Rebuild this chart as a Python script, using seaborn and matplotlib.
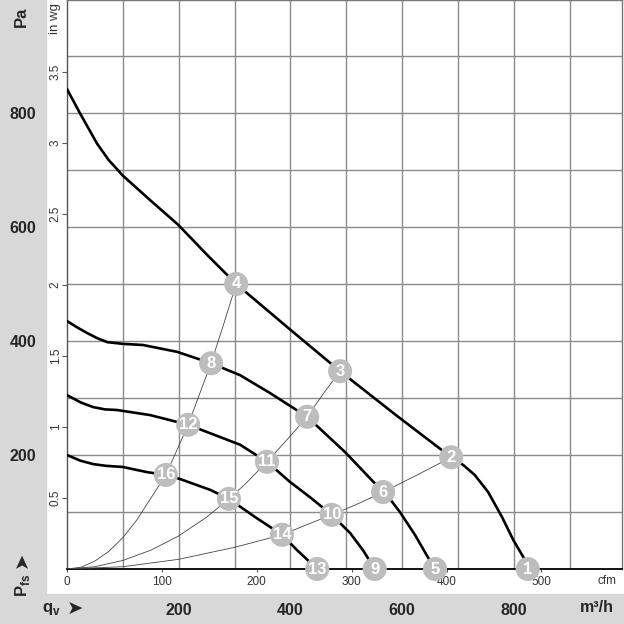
import matplotlib
matplotlib.use('Agg')
import matplotlib.pyplot as plt
import seaborn as sns
import pandas as pd
from matplotlib.patches import Rectangle

# fan curves: flow in m3/h, static pressure in Pa
curve_1_q = [0, 23, 54, 75, 91, 99, 149, 199, 251, 303, 396, 489, 589, 688, 710, 730, 754, 779, 799, 820, 825]
curve_1_p = [842, 800, 746, 717, 700, 691, 647, 604, 551, 500, 423, 347, 270, 196, 182, 165, 135, 91, 51, 16, 0]
curve_2_q = [0, 18, 36, 54, 72, 100, 136, 197, 258, 310, 363, 430, 498, 566, 582, 596, 623, 646, 659]
curve_2_p = [435, 424, 414, 405, 398, 395, 393, 381, 361, 340, 309, 267, 205, 135, 118, 100, 60, 21, 0]
curve_3_q = [0, 25, 47, 68, 89, 149, 217, 310, 358, 399, 435, 474, 507, 530, 551]
curve_3_p = [305, 292, 284, 280, 279, 270, 253, 218, 188, 153, 126, 95, 63, 33, 0]
curve_4_q = [0, 24, 47, 70, 100, 143, 177, 202, 256, 290, 337, 385, 412, 448]
curve_4_p = [200, 190, 184, 181, 179, 170, 165, 158, 139, 123, 91, 60, 33, 0]

# system resistance curves (thin lines from the origin)
sys_a_q = [0, 25, 50, 75, 100, 125, 150, 177, 197, 217, 237, 258, 280, 303]
sys_a_p = [0, 3, 14, 31, 55, 86, 124, 165, 209, 253, 306, 361, 428, 500]
sys_b_q = [0, 50, 100, 150, 200, 250, 290, 320, 358, 395, 430, 460, 489]
sys_b_p = [0, 4, 15, 33, 58, 91, 123, 150, 188, 228, 267, 309, 347]
sys_c_q = [0, 100, 200, 300, 385, 430, 474, 520, 566, 625, 688]
sys_c_p = [0, 4, 17, 38, 60, 78, 95, 114, 135, 164, 196]

# numbered operating points
op_labels = ['1', '2', '3', '4', '5', '6', '7', '8',
             '9', '10', '11', '12', '13', '14', '15', '16']
op_q = [825, 688, 489, 303, 659, 566, 430, 258, 551, 474, 358, 217, 448, 385, 290, 177]
op_p = [0, 196, 347, 500, 0, 135, 267, 361, 0, 95, 188, 253, 0, 60, 123, 165]

pa_ticks = [200, 400, 600, 800]
m3h_ticks = [200, 400, 600, 800]
inwg_ticks = [0.5, 1, 1.5, 2, 2.5, 3, 3.5]
inwg_labels = ['0.5', '1', '1.5', '2', '2.5', '3', '3.5']
cfm_ticks = [0, 100, 200, 300, 400, 500]

sns.set_style('white')
plt.rcParams['font.family'] = ['Liberation Sans', 'DejaVu Sans']
plt.rcParams['mathtext.fontset'] = 'custom'
plt.rcParams['mathtext.bf'] = 'Liberation Sans:bold'
plt.rcParams['mathtext.rm'] = 'Liberation Sans'

W = 624.0
fig = plt.figure(figsize=(6.24, 6.24), dpi=100)
fig.patch.set_facecolor('white')
gray = '#d8d8d8'
fig.patches.append(Rectangle((0, 0), 45.5 / W, 1, transform=fig.transFigure, color=gray, zorder=-1))
fig.patches.append(Rectangle((0, 0), 1, 30 / W, transform=fig.transFigure, color=gray, zorder=-1))

ax = fig.add_axes([67 / W, 55 / W, 555 / W, 569 / W])
ax.set_facecolor('white')

fans = pd.concat([
    pd.DataFrame({'q': q, 'p': p, 'curve': n})
    for n, (q, p) in enumerate([(curve_1_q, curve_1_p), (curve_2_q, curve_2_p),
                                (curve_3_q, curve_3_p), (curve_4_q, curve_4_p)])
])
systems = pd.concat([
    pd.DataFrame({'q': q, 'p': p, 'curve': n})
    for n, (q, p) in enumerate([(sys_a_q, sys_a_p), (sys_b_q, sys_b_p), (sys_c_q, sys_c_p)])
])

sns.lineplot(data=systems, x='q', y='p', units='curve', estimator=None, sort=False,
             color='#444444', lw=0.6, ax=ax, zorder=3)
sns.lineplot(data=fans, x='q', y='p', units='curve', estimator=None, sort=False,
             color='black', lw=1.9, ax=ax, zorder=4)
sns.scatterplot(x=op_q, y=op_p, s=300, color='#bdbdbd', edgecolor='none',
                ax=ax, zorder=6, clip_on=False)
for lab, q, p in zip(op_labels, op_q, op_p):
    ax.text(q, p, lab, color='white', fontsize=12, fontweight='bold',
            ha='center', va='center', zorder=7, clip_on=False)

ax.set_xlim(0, 555 / 0.5585)
ax.set_ylim(0, 569 / 0.570)
ax.set_xlabel('')
ax.set_ylabel('')

# grid every 100
ax.set_xticks(m3h_ticks)
ax.set_xticks(range(100, 1000, 100), minor=True)
ax.set_yticks(pa_ticks)
ax.set_yticks(range(100, 1000, 100), minor=True)
ax.grid(True, which='both', color='#8a8a8a', lw=1.0, zorder=1)
ax.set_axisbelow(True)
ax.tick_params(which='both', length=0)
ax.tick_params(axis='x', pad=24.5, labelsize=11.5)
ax.tick_params(axis='y', pad=22, labelsize=11.5)
for t in ax.get_xticklabels() + ax.get_yticklabels():
    t.set_fontweight('bold')

for side in ['top', 'right']:
    ax.spines[side].set_color('#777777')
    ax.spines[side].set_linewidth(1.0)
ax.spines['left'].set_color('#555555')
ax.spines['left'].set_linewidth(1.0)
ax.spines['bottom'].set_color('black')
ax.spines['bottom'].set_linewidth(1.3)

# inch water gauge scale
sec_y = ax.secondary_yaxis('left', functions=(lambda p: p / 249.089, lambda w: w * 249.089))
sec_y.set_yticks(inwg_ticks)
sec_y.set_yticklabels(inwg_labels)
sec_y.tick_params(direction='out', length=3.6, width=0.8, color='#555555',
                  labelsize=8.5, labelcolor='#333333', labelrotation=90, pad=0.2)
sec_y.spines['left'].set_visible(False)
for t in sec_y.get_yticklabels():
    t.set_va('center')

# cfm scale
sec_x = ax.secondary_xaxis('bottom', functions=(lambda q: q / 1.699, lambda c: c * 1.699))
sec_x.set_xticks(cfm_ticks)
sec_x.tick_params(direction='out', length=2.5, width=0.8, color='#555555',
                  labelsize=8.5, labelcolor='#333333', pad=2.5)
sec_x.spines['bottom'].set_visible(False)


def px(x, y):
    return x / W, 1 - y / W


fig.text(*px(21, 17), 'Pa', rotation=90, fontsize=12, fontweight='bold', ha='center', va='center')
fig.text(*px(55, 19), 'in wg', rotation=90, fontsize=9.5, color='#333333', ha='center', va='center')
fig.text(*px(607, 581), 'cfm', fontsize=8.5, color='#333333', ha='center', va='center')
fig.text(*px(597, 608), 'm³/h', fontsize=11.5, fontweight='bold', ha='center', va='center')
fig.text(*px(51, 609), r'$\mathbf{q}_{\mathbf{v}}$', fontsize=12, ha='center', va='center')
fig.text(*px(75, 609), '➤', fontsize=14, ha='center', va='center',
         family=['DejaVu Sans'])
fig.text(*px(22, 585), r'$\mathbf{P}_{\mathbf{fs}}$', rotation=90, fontsize=12, ha='center', va='center')
fig.text(*px(22, 560), '➤', rotation=90, fontsize=14, ha='center', va='center',
         family=['DejaVu Sans'])

fig.savefig('out.png', dpi=100)
